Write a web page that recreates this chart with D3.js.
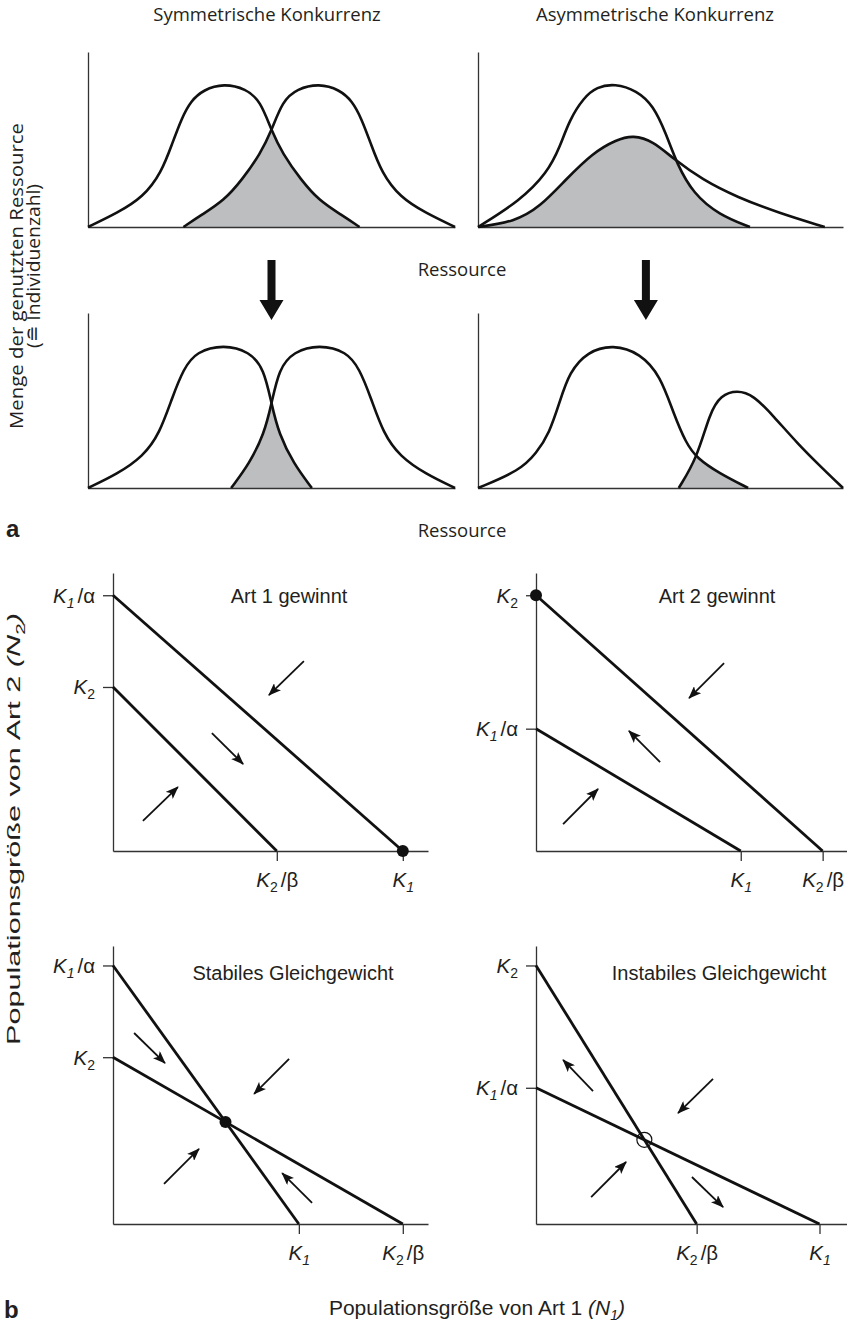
<!DOCTYPE html>
<html>
<head>
<meta charset="utf-8">
<script src="https://cdn.jsdelivr.net/npm/d3@7"></script>
<style>
  body { margin: 0; background: #fff; }
  svg { display: block; }
</style>
</head>
<body>
<script>
// ---------- Teil a: Ressourcennutzung (Ressource 0–100, Menge 0–100) ----------
const symBeforeSp1 = [[0,0],[8,8],[15,17],[20,31],[23,48],[25.5,62],[28,72],[31.5,78.5],[37,82],[43,79],[47,72],[50,55],[53,42],[58,27],[63,15],[69,7],[74,0]];
const symBeforeSp2 = [[26,0],[31,7],[37,15],[42,27],[47,42],[50,55],[53,72],[57,79],[63,82],[68.5,78.5],[72,72],[74.5,62],[77,48],[80,31],[85,17],[92,8],[100,0]];
const symAfterSp1  = [[0,0],[8,8],[15,18],[19.5,31],[23,52],[26,68],[29.5,78],[37,82],[44,78],[48,68],[50,48],[52,31],[56,14],[61,0]];
const symAfterSp2  = [[39,0],[44,14],[48,31],[50,48],[52,68],[56,78],[63,82],[70.5,78],[74,68],[77,52],[80.5,31],[85,18],[92,8],[100,0]];
const asymBeforeSp1 = [[0,0],[11.5,15],[19,31],[22.5,46],[25,61],[29,74],[32.5,80],[37.5,82],[43.5,78],[48,69.5],[51.5,53.5],[54.5,36],[59,19],[66,7],[74.5,0]];
const asymBeforeSp2 = [[0,0],[10,3],[17,11.5],[24,27],[31.5,42.5],[38,50],[42.5,52.5],[48,49],[53.5,39],[61.5,27],[71,17],[82.5,8],[95,0]];
const asymAfterSp1  = [[0,0],[11.5,10],[16,20],[19.5,31],[22.5,50],[25,66],[30,78],[37,82],[44.5,77],[50,64],[53.5,43],[57,25.5],[60,17],[66,8.5],[74,0]];
const asymAfterSp2  = [[55,0],[60,17],[63.5,43],[66.5,53],[71,56],[75.5,53],[81,41],[87.5,25.5],[94,12],[100,0]];
const columnTitles = ["Symmetrische Konkurrenz", "Asymmetrische Konkurrenz"];
const shiftArrowX = [50, 46];   // Lage der Verschiebungspfeile auf der Ressourcenachse

// ---------- Teil b: Lotka-Volterra-Isoklinen (N1, N2 in 0–100) ----------
const panelTitles = ["Art 1 gewinnt", "Art 2 gewinnt", "Stabiles Gleichgewicht", "Instabiles Gleichgewicht"];
const isoK1      = [92, 65, 59, 90];   // N1-Achsenabschnitt Isokline Art 1 (K1)
const isoK1Alpha = [92, 44, 93, 49];   // N2-Achsenabschnitt Isokline Art 1 (K1/α)
const isoK2      = [59, 92, 60, 93];   // N2-Achsenabschnitt Isokline Art 2 (K2)
const isoK2Beta  = [52, 91, 92, 51];   // N1-Achsenabschnitt Isokline Art 2 (K2/β)
const equilibrium = ["K1", "K2", "stable", "unstable"];
const arrowsArt1   = [[60.6,68.3,49.5,56.1],[31.4,42.4,41.3,31.3],[9.5,10.8,20.6,23.0]];
const arrowsArt2   = [[59.7,67.6,48.6,55.0],[39.4,32.0,29.5,43.2],[8.6,9.7,19.7,22.3]];
const arrowsStable = [[6.7,68.7,16.5,57.9],[55.9,59.4,44.8,46.8],[16.2,14.4,27.3,27.0],[63.2,7.6,53.7,18.3]];
const arrowsUnstab = [[18.1,47.8,8.6,59.0],[56.2,52.2,45.1,39.9],[17.5,9.7,28.6,22.3],[49.5,16.9,59.4,6.1]];

// ---------- Zeichnung ----------
const W = 847, H = 1323;
const aFont = "'Open Sans', 'Noto Sans', sans-serif";
const bFont = "'Liberation Sans', Arial, sans-serif";
const ink = "#231f20";
const shade = "#bcbec0";

const svg = d3.select("body").append("svg").attr("width", W).attr("height", H);
const defs = svg.append("defs");
defs.append("marker")
  .attr("id", "head").attr("viewBox", "0 -5 13 10")
  .attr("refX", 12).attr("refY", 0)
  .attr("markerWidth", 13).attr("markerHeight", 10)
  .attr("markerUnits", "userSpaceOnUse").attr("orient", "auto")
  .append("path").attr("d", "M0,-5L13,0L0,5L3,0Z").attr("fill", "#111");

// ----- Teil a -----
const aPanels = [
  { x0: 88,  x1: 455, base: 227, top: 52,  sp1: symBeforeSp1,  sp2: symBeforeSp2 },
  { x0: 478, x1: 843, base: 227, top: 52,  sp1: asymBeforeSp1, sp2: asymBeforeSp2 },
  { x0: 88,  x1: 455, base: 488, top: 313, sp1: symAfterSp1,   sp2: symAfterSp2 },
  { x0: 478, x1: 843, base: 488, top: 313, sp1: asymAfterSp1,  sp2: asymAfterSp2 }
];
const smooth = d3.curveBasis;

aPanels.forEach((p, i) => {
  const x = d3.scaleLinear([0, 100], [p.x0, p.x1]);
  const y = d3.scaleLinear([0, 100], [p.base, p.top]);
  const g = svg.append("g");
  const line = d3.line().x(d => x(d[0])).y(d => y(d[1])).curve(smooth);
  const area = d3.area().x(d => x(d[0])).y0(y(0)).y1(d => y(d[1])).curve(smooth);

  // Überlappung der beiden Nutzungskurven
  const clipId = "overlap" + i;
  defs.append("clipPath").attr("id", clipId).append("path").attr("d", area(p.sp2));
  g.append("path").attr("d", area(p.sp1)).attr("fill", shade).attr("clip-path", `url(#${clipId})`);

  const axes = g.append("g").attr("color", "#333");
  axes.append("g").attr("transform", `translate(0,${y(0)})`)
    .call(d3.axisBottom(x).tickValues([]).tickSizeOuter(0));
  axes.append("g").attr("transform", `translate(${x(0)},0)`)
    .call(d3.axisLeft(y).tickValues([]).tickSizeOuter(0));
  axes.selectAll(".domain").attr("stroke-width", 1.3);

  [p.sp1, p.sp2].forEach(s => {
    g.append("path").attr("d", line(s))
      .attr("fill", "none").attr("stroke", "#111")
      .attr("stroke-width", 2.6).attr("stroke-linejoin", "round");
  });
});

// Verschiebungspfeile zwischen den Zeilen
[0, 1].forEach(c => {
  const p = aPanels[c];
  const x = d3.scaleLinear([0, 100], [p.x0, p.x1]);
  const cx = x(shiftArrowX[c]);
  const top = 260, neck = 300, tip = 320;
  svg.append("path")
    .attr("d", `M${cx-4},${top}H${cx+4}V${neck}H${cx+12}L${cx},${tip}L${cx-12},${neck}H${cx-4}Z`)
    .attr("fill", "#111");
});

// Beschriftungen Teil a
const aText = svg.append("g").attr("font-family", aFont).attr("fill", ink);
aText.append("text").attr("x", 267).attr("y", 21).attr("text-anchor", "middle")
  .attr("font-size", 18.5).text(columnTitles[0]);
aText.append("text").attr("x", 655).attr("y", 21).attr("text-anchor", "middle")
  .attr("font-size", 18.5).text(columnTitles[1]);
[276, 537].forEach(yy => {
  aText.append("text").attr("x", 462).attr("y", yy).attr("text-anchor", "middle")
    .attr("font-size", 18.5).text("Ressource");
});
aText.append("text").attr("transform", "translate(23,276) rotate(-90)")
  .attr("text-anchor", "middle").attr("font-size", 18.5)
  .attr("textLength", 306).attr("lengthAdjust", "spacingAndGlyphs")
  .text("Menge der genutzten Ressource");
aText.append("text").attr("transform", "translate(40,266) rotate(-90)")
  .attr("text-anchor", "middle").attr("font-size", 18.5)
  .attr("textLength", 164).attr("lengthAdjust", "spacingAndGlyphs")
  .text("(≘ Individuenzahl)");

svg.append("text").attr("x", 6).attr("y", 537)
  .attr("font-family", bFont).attr("font-weight", "bold").attr("font-size", 24)
  .attr("fill", ink).text("a");

// ----- Teil b -----
const bPanels = [
  { x0: 113, base: 851,  arrows: arrowsArt1,   titleX: 289, titleY: 603 },
  { x0: 536, base: 851,  arrows: arrowsArt2,   titleX: 717, titleY: 603 },
  { x0: 113, base: 1224, arrows: arrowsStable, titleX: 293, titleY: 980 },
  { x0: 536, base: 1224, arrows: arrowsUnstab, titleX: 719, titleY: 980 }
];

function kLabel(t, sub, suffix) {
  t.text(null);
  t.append("tspan").attr("font-style", "italic").text("K");
  t.append("tspan").attr("font-style", sub === "1" ? "italic" : "normal")
    .attr("font-size", 14).attr("dy", 5).text(sub);
  if (suffix) t.append("tspan").attr("dy", -5).attr("dx", 3).text("/" + suffix);
}

bPanels.forEach((p, i) => {
  const x = d3.scaleLinear([0, 100], [p.x0, p.x0 + 315]);
  const y = d3.scaleLinear([0, 100], [p.base, p.base - 278]);
  const g = svg.append("g").attr("font-family", bFont);

  const k1 = isoK1[i], k1a = isoK1Alpha[i], k2 = isoK2[i], k2b = isoK2Beta[i];

  // Achsen mit Markierungen an den Achsenabschnitten
  const gx = g.append("g").attr("transform", `translate(0,${y(0)})`).attr("color", "#333")
    .call(d3.axisBottom(x).tickValues([k1, k2b]).tickSize(10).tickSizeOuter(0).tickFormat(""));
  const gy = g.append("g").attr("transform", `translate(${x(0)},0)`).attr("color", "#333")
    .call(d3.axisLeft(y).tickValues([k1a, k2]).tickSize(10).tickSizeOuter(0).tickFormat(""));
  [gx, gy].forEach(a => {
    a.attr("font-family", bFont).attr("font-size", 20.5);
    a.selectAll(".domain, .tick line").attr("stroke-width", 1.3);
    a.selectAll(".tick text").attr("fill", ink);
  });
  gx.selectAll(".tick text").attr("y", 36).attr("dy", 0)
    .each(function(d) { kLabel(d3.select(this), d === k1 ? "1" : "2", d === k1 ? null : "β"); });
  gy.selectAll(".tick text").attr("x", -18).attr("y", 7).attr("dy", 0)
    .each(function(d) { kLabel(d3.select(this), d === k1a ? "1" : "2", d === k1a ? "α" : null); });

  // Isoklinen
  const line = d3.line().x(d => x(d[0])).y(d => y(d[1]));
  [[[0, k1a], [k1, 0]], [[0, k2], [k2b, 0]]].forEach(seg => {
    g.append("path").attr("d", line(seg)).attr("fill", "none")
      .attr("stroke", "#111").attr("stroke-width", 2.8);
  });

  // Richtungspfeile
  g.selectAll("line.dir").data(p.arrows).join("line").attr("class", "dir")
    .attr("x1", d => x(d[0])).attr("y1", d => y(d[1]))
    .attr("x2", d => x(d[2])).attr("y2", d => y(d[3]))
    .attr("stroke", "#111").attr("stroke-width", 1.8)
    .attr("marker-end", "url(#head)");

  // Gleichgewichtspunkt
  let ex, ey;
  if (equilibrium[i] === "K1") { ex = k1; ey = 0; }
  else if (equilibrium[i] === "K2") { ex = 0; ey = k2; }
  else {
    ex = (k1a - k2) / (k1a / k1 - k2 / k2b);
    ey = k2 * (1 - ex / k2b);
  }
  if (equilibrium[i] === "unstable") {
    g.append("circle").attr("cx", x(ex)).attr("cy", y(ey)).attr("r", 7.5)
      .attr("fill", "none").attr("stroke", "#111").attr("stroke-width", 1.2);
  } else {
    g.append("circle").attr("cx", x(ex)).attr("cy", y(ey)).attr("r", 6).attr("fill", "#111");
  }

  g.append("text").attr("x", p.titleX).attr("y", p.titleY).attr("text-anchor", "middle")
    .attr("font-size", 20).attr("fill", ink).text(panelTitles[i]);
});

// Achsentitel Teil b
const xLab = svg.append("text").attr("x", 477).attr("y", 1315).attr("text-anchor", "middle")
  .attr("font-family", bFont).attr("font-size", 21).attr("fill", ink);
xLab.append("tspan").text("Populationsgröße von Art 1 ");
xLab.append("tspan").attr("font-style", "italic").text("(N");
xLab.append("tspan").attr("font-style", "italic").attr("font-size", 14).attr("dy", 5).text("1");
xLab.append("tspan").attr("font-style", "italic").attr("dy", -5).text(")");

const yLab = svg.append("text").attr("transform", "translate(20,829) rotate(-90)")
  .attr("text-anchor", "middle")
  .attr("textLength", 432).attr("lengthAdjust", "spacingAndGlyphs")
  .attr("font-family", bFont).attr("font-size", 19).attr("fill", ink);
yLab.append("tspan").text("Populationsgröße von Art 2 ");
yLab.append("tspan").attr("font-style", "italic").text("(N");
yLab.append("tspan").attr("font-size", 13).attr("dy", 5).text("2");
yLab.append("tspan").attr("font-style", "italic").attr("dy", -5).text(")");

svg.append("text").attr("x", 4).attr("y", 1318)
  .attr("font-family", bFont).attr("font-weight", "bold").attr("font-size", 24)
  .attr("fill", ink).text("b");
</script>
</body>
</html>
